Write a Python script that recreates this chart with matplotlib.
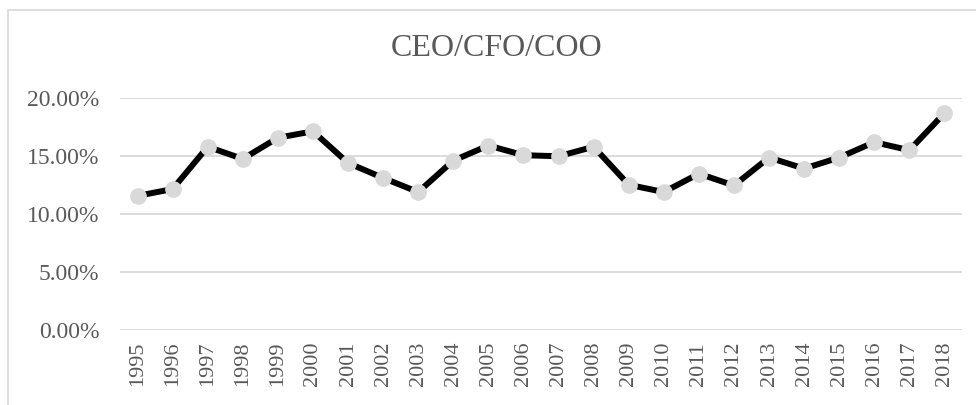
import matplotlib
matplotlib.use("Agg")
import matplotlib.pyplot as plt
from matplotlib.patches import Rectangle
from matplotlib.ticker import FuncFormatter

# data
years = [str(y) for y in range(1995, 2019)]
share = [11.57, 12.16, 15.82, 14.77, 16.60, 17.16, 14.42, 13.12, 11.90, 14.62,
         15.93, 15.09, 15.00, 15.82, 12.53, 11.90, 13.49, 12.47, 14.89, 13.93,
         14.89, 16.22, 15.52, 18.73]
title = "CEO/CFO/COO"

plt.rcParams['font.family'] = ['Liberation Serif', 'DejaVu Serif']
grey_txt = "#595959"
grey_line = "#d9d9d9"

fig = plt.figure(figsize=(9.76, 4.05), dpi=100)
ax = fig.add_axes([120/976, 1-329.5/405, (962-120)/976, (329.5-98.5)/405])

x = list(range(len(years)))
ax.plot(x, share, color="black", lw=4.3, marker="o", ms=11,
        mfc=grey_line, mec=grey_line, zorder=3, solid_joinstyle="miter")

ax.set_xlim(-0.5, len(years)-0.5)
ax.set_ylim(0, 20)
ax.set_yticks([0, 5, 10, 15, 20])
ax.yaxis.set_major_formatter(FuncFormatter(lambda v, p: "%.2f%%" % v))
ax.set_xticks(x)
ax.set_xticklabels(years, rotation=90)
ax.grid(axis="y", color=grey_line, lw=1.3)
ax.set_axisbelow(True)
for s in ax.spines.values():
    s.set_visible(False)
ax.tick_params(axis="x", length=0, labelsize=16, colors=grey_txt, pad=9)
ax.tick_params(axis="y", length=0, labelsize=17, colors=grey_txt, pad=15)

fig.text(497/976, 1-48/405, title, ha="center", va="center",
         fontsize=23, color=grey_txt)

# chart area border (only top and left visible in the crop)
fig.add_artist(Rectangle((8/976, -0.2), 1.5, 1.2-10/405, transform=fig.transFigure,
                         fill=False, edgecolor=grey_line, lw=1.2, clip_on=False))

fig.savefig("out.png", dpi=100)
